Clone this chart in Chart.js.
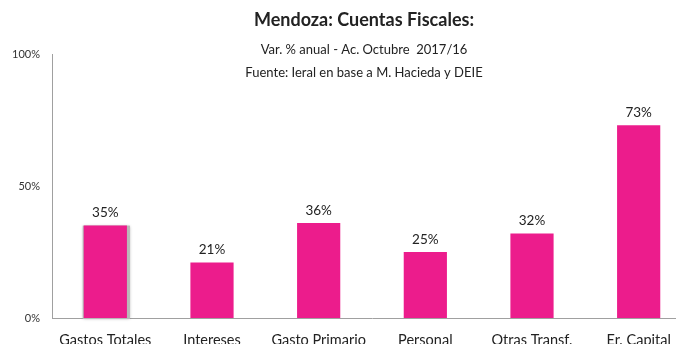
<!DOCTYPE html>
<html>
<head>
<meta charset="utf-8">
<script src="https://cdn.jsdelivr.net/npm/chart.js@4/dist/chart.umd.min.js"></script>
<style>
  html, body { margin: 0; padding: 0; background: #fff; overflow: hidden; width: 676px; height: 344px; }
  #wrap { width: 692px; height: 344px; position: relative; }
</style>
</head>
<body>
<div id="wrap"><canvas id="c" width="692" height="344"></canvas></div>
<script>
const categories = ['Gastos Totales', 'Intereses', 'Gasto Primario', 'Personal', 'Otras Transf.', 'Er. Capital'];
const variacion = [35, 21, 36, 25, 32, 73];
const yTicks = [0, 50, 100];

const titleText = 'Mendoza: Cuentas Fiscales:';
const subtitleLines = ['Var. % anual - Ac. Octubre  2017/16', 'Fuente: Ieral en base a M. Hacieda y DEIE'];

const FONT = 'Lato, "Open Sans", sans-serif';
const PINK = '#EC1C8C';

// Headline and source lines, centred over the plotting region
const headerPlugin = {
  id: 'header',
  afterDraw(chart) {
    const ctx = chart.ctx;
    const cx = (chart.chartArea.left + 676) / 2;
    ctx.save();
    ctx.textAlign = 'center';
    ctx.textBaseline = 'middle';
    ctx.fillStyle = '#222';
    ctx.font = 'bold 18px ' + FONT;
    ctx.fillText(titleText, cx, 20);
    ctx.font = '13px ' + FONT;
    ctx.fillText(subtitleLines[0], cx, 50);
    ctx.fillText(subtitleLines[1], cx, 73);
    ctx.restore();
  }
};

// Soft grey shadow behind the first bar
const shadowPlugin = {
  id: 'firstBarShadow',
  beforeDatasetsDraw(chart) {
    const bar = chart.getDatasetMeta(0).data[0];
    if (!bar) return;
    const ctx = chart.ctx;
    const w = bar.width;
    ctx.save();
    ctx.fillStyle = '#b8b8b8';
    ctx.shadowColor = 'rgba(0,0,0,0.35)';
    ctx.shadowBlur = 3;
    ctx.fillRect(bar.x - w / 2 - 1, bar.y, w + 4, bar.base - bar.y + 1);
    ctx.restore();
  }
};

// Value labels above each bar
const valueLabels = {
  id: 'valueLabels',
  afterDatasetsDraw(chart) {
    const ctx = chart.ctx;
    const meta = chart.getDatasetMeta(0);
    ctx.save();
    ctx.textAlign = 'center';
    ctx.textBaseline = 'bottom';
    ctx.fillStyle = '#222';
    ctx.font = '13.5px ' + FONT;
    meta.data.forEach((bar, i) => {
      ctx.fillText(variacion[i] + '%', bar.x, bar.y - 6);
    });
    ctx.restore();
  }
};

new Chart(document.getElementById('c'), {
  type: 'bar',
  data: {
    labels: categories,
    datasets: [{
      data: variacion,
      backgroundColor: PINK,
      borderWidth: 0,
      barPercentage: 0.405,
      categoryPercentage: 1
    }]
  },
  options: {
    responsive: false,
    animation: false,
    devicePixelRatio: 1,
    layout: { padding: { top: 54, left: 0, right: 0, bottom: 0 } },
    plugins: {
      legend: { display: false },
      tooltip: { enabled: false },
      title: { display: false }
    },
    scales: {
      y: {
        min: 0,
        max: 100,
        afterFit(scale) { scale.width = 52; },
        afterBuildTicks(scale) { scale.ticks = yTicks.map(v => ({ value: v })); },
        ticks: {
          padding: 12,
          color: '#333',
          font: { family: FONT, size: 11 },
          callback: v => v + '%'
        },
        grid: { display: false, drawTicks: false },
        border: { display: true, color: '#a0a0a0', width: 1 }
      },
      x: {
        afterFit(scale) { scale.height = 26; },
        ticks: {
          padding: 14,
          color: '#222',
          maxRotation: 0,
          autoSkip: false,
          font: { family: FONT, size: 14.5 }
        },
        grid: { display: false, drawTicks: false },
        border: { display: true, color: '#a0a0a0', width: 1 }
      }
    }
  },
  plugins: [shadowPlugin, valueLabels, headerPlugin]
});
</script>
</body>
</html>
